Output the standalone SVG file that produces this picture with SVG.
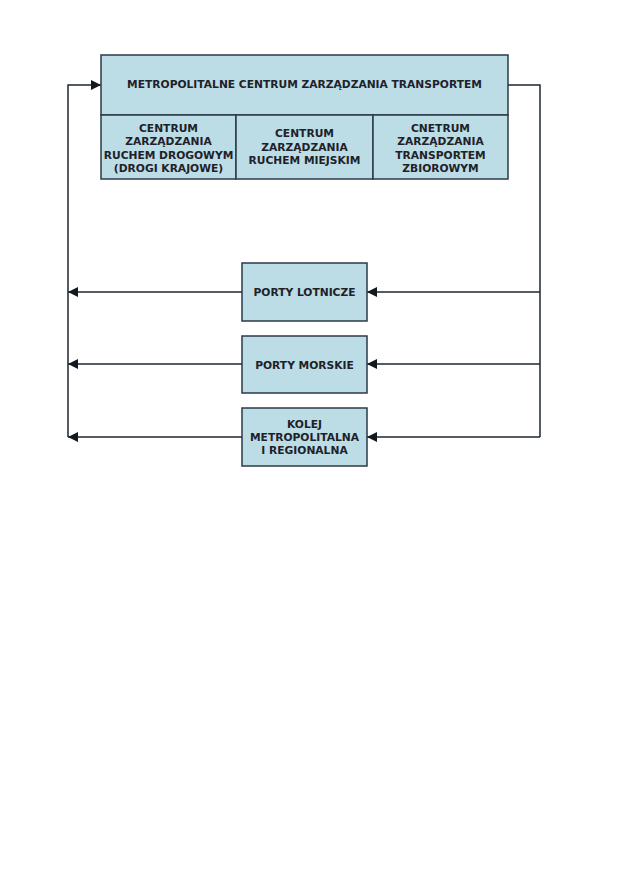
<svg xmlns="http://www.w3.org/2000/svg" width="629" height="893" viewBox="0 0 629 893">
<style>
.box{fill:#bcdce6;stroke:#2b3a48;stroke-width:1.5}
.t{font-family:"DejaVu Sans",Verdana,sans-serif;font-weight:bold;font-size:10.7px;fill:#1e2228;text-anchor:middle}
.c{fill:none;stroke:#1e2630;stroke-width:1.5}
</style>
<defs>
<marker id="ah" viewBox="0 0 10 10" refX="10" refY="5" markerWidth="10" markerHeight="10" markerUnits="userSpaceOnUse" orient="auto">
<path d="M0,0L10,5L0,10z" fill="#111820"/>
</marker>
</defs>
<rect width="629" height="893" fill="#fff"/>
<g id="connectors">
<path class="c" d="M508,85H540V437"/>
<path class="c" d="M540,292H367" marker-end="url(#ah)"/>
<path class="c" d="M540,364H367" marker-end="url(#ah)"/>
<path class="c" d="M540,437H367" marker-end="url(#ah)"/>
<path class="c" d="M242,292H68" marker-end="url(#ah)"/>
<path class="c" d="M242,364H68" marker-end="url(#ah)"/>
<path class="c" d="M242,437H68" marker-end="url(#ah)"/>
<path class="c" d="M68,437V85H101" marker-end="url(#ah)"/>
</g>
<g id="mczt">
<rect class="box" x="101" y="55" width="407" height="60"/>
<text class="t" x="304.5" y="88">METROPOLITALNE CENTRUM ZARZĄDZANIA TRANSPORTEM</text>
</g>
<g id="czrd">
<rect class="box" x="101" y="115" width="135" height="64"/>
<text class="t" x="168.5" y="132">CENTRUM</text>
<text class="t" x="168.5" y="145">ZARZĄDZANIA</text>
<text class="t" x="168.5" y="158.5">RUCHEM DROGOWYM</text>
<text class="t" x="168.5" y="172">(DROGI KRAJOWE)</text>
</g>
<g id="czrm">
<rect class="box" x="236" y="115" width="137" height="64"/>
<text class="t" x="304.5" y="137">CENTRUM</text>
<text class="t" x="304.5" y="150.5">ZARZĄDZANIA</text>
<text class="t" x="304.5" y="164">RUCHEM MIEJSKIM</text>
</g>
<g id="czts">
<rect class="box" x="373" y="115" width="135" height="64"/>
<text class="t" x="440.5" y="132">CNETRUM</text>
<text class="t" x="440.5" y="145">ZARZĄDZANIA</text>
<text class="t" x="440.5" y="158.5">TRANSPORTEM</text>
<text class="t" x="440.5" y="172">ZBIOROWYM</text>
</g>
<g id="lotnicze">
<rect class="box" x="242" y="263" width="125" height="58"/>
<text class="t" x="304.5" y="296">PORTY LOTNICZE</text>
</g>
<g id="morskie">
<rect class="box" x="242" y="336" width="125" height="57"/>
<text class="t" x="304.5" y="369">PORTY MORSKIE</text>
</g>
<g id="kolej">
<rect class="box" x="242" y="408" width="125" height="58"/>
<text class="t" x="304.5" y="428">KOLEJ</text>
<text class="t" x="304.5" y="441">METROPOLITALNA</text>
<text class="t" x="304.5" y="454">I REGIONALNA</text>
</g>
</svg>
